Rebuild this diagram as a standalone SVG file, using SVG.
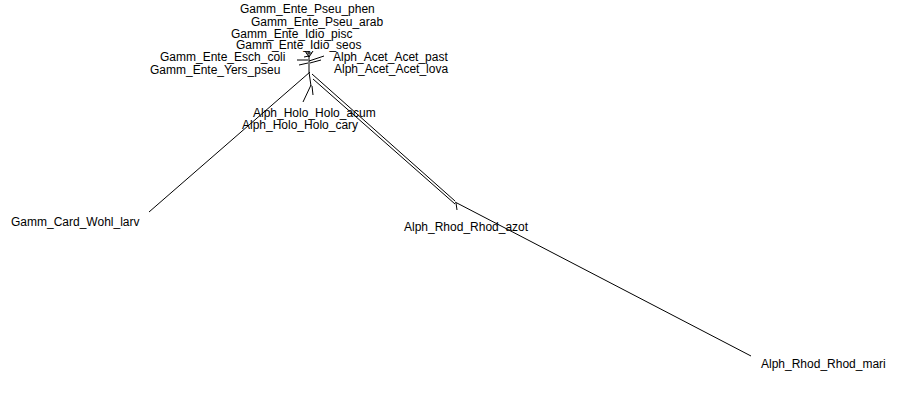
<svg xmlns="http://www.w3.org/2000/svg" width="900" height="406" viewBox="0 0 900 406">
<style>
.bg{fill:#ffffff}
.lbl{font-family:"Liberation Sans",Arial,sans-serif;font-size:12px;fill:#000000}
.br{stroke:#000000;stroke-width:1;fill:none}
</style>
<rect class="bg" x="0" y="0" width="900" height="406"/>
<g id="connectors">
<path class="br" d="M309,51 L309,72 L311,86"/>
<path class="br" d="M309,57 L305,51"/>
<path class="br" d="M309,57 L313,51"/>
<path class="br" d="M306,53 L312,53"/>
<path class="br" d="M309,56 L304,57"/>
<path class="br" d="M308,60 L297,60"/>
<path class="br" d="M308,63 L299,65"/>
<path class="br" d="M309,61 L324,56"/>
<path class="br" d="M310,63 L321,60"/>
<path class="br" d="M310,72 L149,212"/>
<path class="br" d="M311,85 L303,102"/>
<path class="br" d="M312,86 L313,95"/>
<path class="br" d="M312,74 L455,201"/>
<path class="br" d="M313,79 L455,204"/>
<path class="br" d="M455,202 L751,356"/>
<path class="br" d="M456,203 L457,210"/>
</g>
<g id="Gamm_Ente_Pseu_phen"><text class="lbl" x="240" y="13">Gamm_Ente_Pseu_phen</text></g>
<g id="Gamm_Ente_Pseu_arab"><text class="lbl" x="251" y="26">Gamm_Ente_Pseu_arab</text></g>
<g id="Gamm_Ente_Idio_pisc"><text class="lbl" x="231" y="38">Gamm_Ente_Idio_pisc</text></g>
<g id="Gamm_Ente_Idio_seos"><text class="lbl" x="236" y="49">Gamm_Ente_Idio_seos</text></g>
<g id="Gamm_Ente_Esch_coli"><text class="lbl" x="160" y="61">Gamm_Ente_Esch_coli</text></g>
<g id="Gamm_Ente_Yers_pseu"><text class="lbl" x="150" y="74">Gamm_Ente_Yers_pseu</text></g>
<g id="Alph_Acet_Acet_past"><text class="lbl" x="333" y="61">Alph_Acet_Acet_past</text></g>
<g id="Alph_Acet_Acet_lova"><text class="lbl" x="334" y="73">Alph_Acet_Acet_lova</text></g>
<g id="Alph_Holo_Holo_acum"><text class="lbl" x="253" y="117">Alph_Holo_Holo_acum</text></g>
<g id="Alph_Holo_Holo_cary"><text class="lbl" x="242" y="129">Alph_Holo_Holo_cary</text></g>
<g id="Gamm_Card_Wohl_larv"><text class="lbl" x="11" y="226">Gamm_Card_Wohl_larv</text></g>
<g id="Alph_Rhod_Rhod_azot"><text class="lbl" x="404" y="231">Alph_Rhod_Rhod_azot</text></g>
<g id="Alph_Rhod_Rhod_mari"><text class="lbl" x="761" y="368">Alph_Rhod_Rhod_mari</text></g>
</svg>
